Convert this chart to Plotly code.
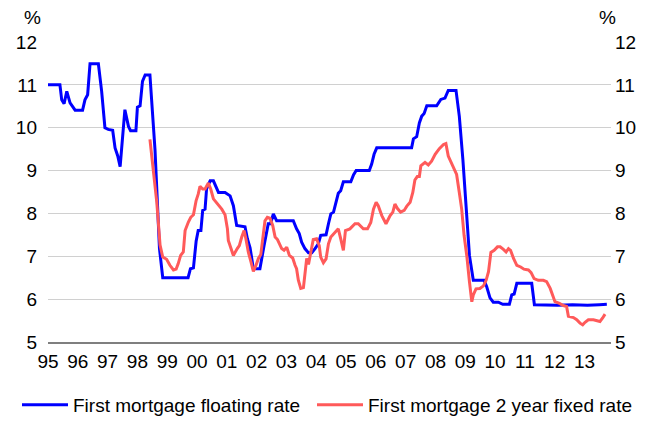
import plotly.graph_objects as go

# First mortgage floating rate (% p.a.), decimal-year positions
float_year = [
    1995.00, 1995.40, 1995.46, 1995.54, 1995.63, 1995.74, 1995.91, 1996.16, 1996.24, 1996.33,
    1996.41, 1996.69, 1996.80, 1996.91, 1997.02, 1997.17, 1997.25, 1997.34, 1997.42, 1997.58,
    1997.70, 1997.77, 1997.95, 1998.00, 1998.09, 1998.17, 1998.26, 1998.42, 1998.59, 1998.74,
    1998.85, 1999.70, 1999.78, 1999.88, 1999.97, 2000.04, 2000.13, 2000.19, 2000.27, 2000.32,
    2000.44, 2000.55, 2000.72, 2000.94, 2001.11, 2001.22, 2001.33, 2001.61, 2001.69, 2001.78,
    2001.89, 2002.11, 2002.25, 2002.39, 2002.47, 2002.56, 2002.67, 2003.23, 2003.34, 2003.43,
    2003.51, 2003.62, 2003.74, 2003.85, 2003.96, 2004.07, 2004.15, 2004.33, 2004.41, 2004.49,
    2004.58, 2004.66, 2004.74, 2004.82, 2004.91, 2005.16, 2005.25, 2005.34, 2005.78, 2005.86,
    2005.94, 2006.03, 2007.20, 2007.26, 2007.37, 2007.46, 2007.54, 2007.62, 2007.71, 2008.04,
    2008.18, 2008.32, 2008.43, 2008.69, 2008.80, 2008.92, 2009.03, 2009.14, 2009.27, 2009.63,
    2009.72, 2009.83, 2009.94, 2010.11, 2010.26, 2010.48, 2010.56, 2010.64, 2010.73, 2011.23,
    2011.32, 2011.70, 2012.10, 2012.60, 2013.10, 2013.50, 2013.75,
]
float_rate = [
    11.00, 11.00, 10.65, 10.56, 10.85, 10.58, 10.41, 10.41, 10.65, 10.77,
    11.49, 11.49, 10.85, 10.00, 9.96, 9.94, 9.53, 9.34, 9.09, 10.42,
    10.03, 9.93, 9.93, 10.48, 10.51, 11.08, 11.23, 11.23, 9.49, 7.18,
    6.50, 6.50, 6.71, 6.73, 7.35, 7.60, 7.60, 8.07, 8.10, 8.57,
    8.76, 8.76, 8.49, 8.49, 8.41, 8.18, 7.72, 7.69, 7.41, 7.20,
    6.71, 6.71, 7.25, 7.76, 7.76, 7.99, 7.83, 7.83, 7.64, 7.53,
    7.33, 7.18, 7.08, 7.08, 7.18, 7.29, 7.49, 7.50, 7.76, 7.99,
    8.03, 8.26, 8.47, 8.53, 8.74, 8.74, 8.90, 9.00, 9.00, 9.15,
    9.38, 9.53, 9.53, 9.74, 9.79, 10.11, 10.27, 10.33, 10.51, 10.51,
    10.66, 10.69, 10.87, 10.87, 10.27, 9.26, 8.10, 7.02, 6.44, 6.44,
    6.29, 6.03, 5.93, 5.93, 5.88, 5.88, 6.10, 6.12, 6.37, 6.37,
    5.87, 5.86, 5.86, 5.87, 5.86, 5.87, 5.88,
]

# First mortgage 2 year fixed rate (% p.a.)
fixed_year = [
    1998.42, 1998.56, 1998.65, 1998.76, 1998.85, 1998.98, 1999.09, 1999.21, 1999.30, 1999.37,
    1999.45, 1999.54, 1999.60, 1999.71, 1999.79, 1999.88, 1999.97, 2000.04, 2000.10, 2000.19,
    2000.27, 2000.38, 2000.46, 2000.55, 2000.68, 2000.83, 2000.94, 2001.02, 2001.05, 2001.13,
    2001.22, 2001.35, 2001.42, 2001.50, 2001.58, 2001.64, 2001.72, 2001.81, 2001.89, 2001.98,
    2002.06, 2002.14, 2002.20, 2002.28, 2002.36, 2002.45, 2002.54, 2002.62, 2002.70, 2002.76,
    2002.84, 2002.92, 2003.01, 2003.10, 2003.21, 2003.29, 2003.34, 2003.40, 2003.48, 2003.57,
    2003.62, 2003.68, 2003.74, 2003.81, 2003.90, 2004.01, 2004.10, 2004.15, 2004.24, 2004.33,
    2004.41, 2004.49, 2004.63, 2004.74, 2004.82, 2004.91, 2004.98, 2005.13, 2005.30, 2005.41,
    2005.58, 2005.72, 2005.83, 2005.92, 2006.01, 2006.08, 2006.20, 2006.34, 2006.48, 2006.57,
    2006.64, 2006.72, 2006.83, 2006.95, 2007.04, 2007.15, 2007.24, 2007.31, 2007.39, 2007.46,
    2007.51, 2007.57, 2007.65, 2007.76, 2007.87, 2007.99, 2008.13, 2008.27, 2008.35, 2008.43,
    2008.55, 2008.66, 2008.71, 2008.80, 2008.88, 2008.96, 2009.05, 2009.14, 2009.22, 2009.27,
    2009.36, 2009.49, 2009.61, 2009.70, 2009.78, 2009.86, 2009.97, 2010.08, 2010.17, 2010.28,
    2010.37, 2010.45, 2010.52, 2010.62, 2010.73, 2010.86, 2010.97, 2011.12, 2011.21, 2011.31,
    2011.45, 2011.62, 2011.73, 2011.85, 2011.93, 2012.01, 2012.16, 2012.29, 2012.40, 2012.46,
    2012.63, 2012.74, 2012.85, 2012.94, 2013.02, 2013.13, 2013.30, 2013.41, 2013.52, 2013.61,
    2013.69,
]
fixed_rate = [
    9.73, 8.88, 8.26, 7.26, 6.98, 6.93, 6.79, 6.68, 6.70, 6.83,
    7.02, 7.10, 7.60, 7.80, 7.91, 7.97, 8.30, 8.45, 8.63, 8.57,
    8.57, 8.71, 8.57, 8.34, 8.24, 8.10, 7.97, 7.64, 7.37, 7.18,
    7.02, 7.18, 7.25, 7.45, 7.60, 7.41, 7.10, 6.87, 6.65, 6.79,
    6.95, 7.04, 7.33, 7.83, 7.91, 7.89, 7.72, 7.45, 7.39, 7.29,
    7.18, 7.14, 7.21, 7.02, 6.96, 6.79, 6.71, 6.44, 6.25, 6.27,
    6.56, 6.95, 6.81, 7.06, 7.39, 7.41, 7.25, 6.98, 6.85, 6.94,
    7.29, 7.45, 7.56, 7.64, 7.41, 7.14, 7.60, 7.64, 7.76, 7.76,
    7.64, 7.64, 7.79, 8.10, 8.26, 8.18, 7.95, 7.76, 7.95, 8.03,
    8.22, 8.12, 8.03, 8.07, 8.17, 8.26, 8.49, 8.78, 8.86, 8.86,
    9.11, 9.15, 9.19, 9.13, 9.22, 9.38, 9.51, 9.61, 9.63, 9.34,
    9.15, 8.99, 8.91, 8.49, 8.10, 7.49, 7.02, 6.41, 5.94, 6.10,
    6.24, 6.25, 6.31, 6.44, 6.64, 7.09, 7.14, 7.22, 7.22, 7.16,
    7.10, 7.18, 7.14, 6.95, 6.79, 6.75, 6.70, 6.68, 6.62, 6.48,
    6.44, 6.44, 6.41, 6.25, 6.08, 5.94, 5.90, 5.85, 5.83, 5.60,
    5.57, 5.52, 5.44, 5.40, 5.46, 5.52, 5.52, 5.50, 5.48, 5.56,
    5.65,
]

year_ticks = list(range(1995, 2014))
year_labels = ["95", "96", "97", "98", "99", "00", "01", "02", "03", "04",
               "05", "06", "07", "08", "09", "10", "11", "12", "13"]
rate_ticks = [5, 6, 7, 8, 9, 10, 11, 12]

FONT = "Liberation Sans, Arial, sans-serif"
FS = 19
BLUE = "#0000FF"
RED = "#FF5A5A"

fig = go.Figure()
fig.add_trace(go.Scatter(
    x=float_year, y=float_rate, mode="lines",
    name="First mortgage floating rate",
    line=dict(color=BLUE, width=3), legend="legend",
))
fig.add_trace(go.Scatter(
    x=fixed_year, y=fixed_rate, mode="lines", yaxis="y2",
    name="First mortgage 2 year fixed rate",
    line=dict(color=RED, width=3), legend="legend2",
))

legend_common = dict(
    orientation="h", xanchor="left", xref="container",
    y=0.038, yanchor="middle", yref="container",
    font=dict(size=FS), itemwidth=46, bgcolor="rgba(0,0,0,0)",
)

fig.update_layout(
    width=656, height=421,
    margin=dict(l=48, r=45, t=42, b=79, autoexpand=False),
    paper_bgcolor="white", plot_bgcolor="white",
    font=dict(family=FONT, size=FS, color="#000000"),
    showlegend=True,
    legend=dict(x=17 / 656, **legend_common),
    legend2=dict(x=312 / 656, **legend_common),
    xaxis=dict(
        range=[1995, 2013.89], tickmode="array",
        tickvals=year_ticks, ticktext=year_labels,
        showgrid=False, zeroline=False,
        showline=True, linecolor="#7F7F7F", linewidth=2,
        ticks="", ticklabelstandoff=1,
    ),
    yaxis=dict(
        range=[5, 12], tickmode="array", tickvals=rate_ticks,
        showgrid=True, gridcolor="#D0D0D0", gridwidth=1,
        zeroline=False, showline=False, ticks="",
        ticklabelstandoff=10,
    ),
    yaxis2=dict(
        range=[5, 12], tickmode="array", tickvals=rate_ticks,
        overlaying="y", side="right", matches="y",
        showgrid=False, zeroline=False, showline=False, ticks="",
        ticklabelstandoff=3,
    ),
    annotations=[
        dict(text="%", xref="paper", yref="paper", x=-0.027, y=1.0,
             yshift=25, yanchor="middle", showarrow=False,
             font=dict(size=FS), xanchor="center"),
        dict(text="%", xref="paper", yref="paper", x=0.993, y=1.0,
             yshift=25, yanchor="middle", showarrow=False,
             font=dict(size=FS), xanchor="center"),
    ],
)

fig.write_html("out.html")
